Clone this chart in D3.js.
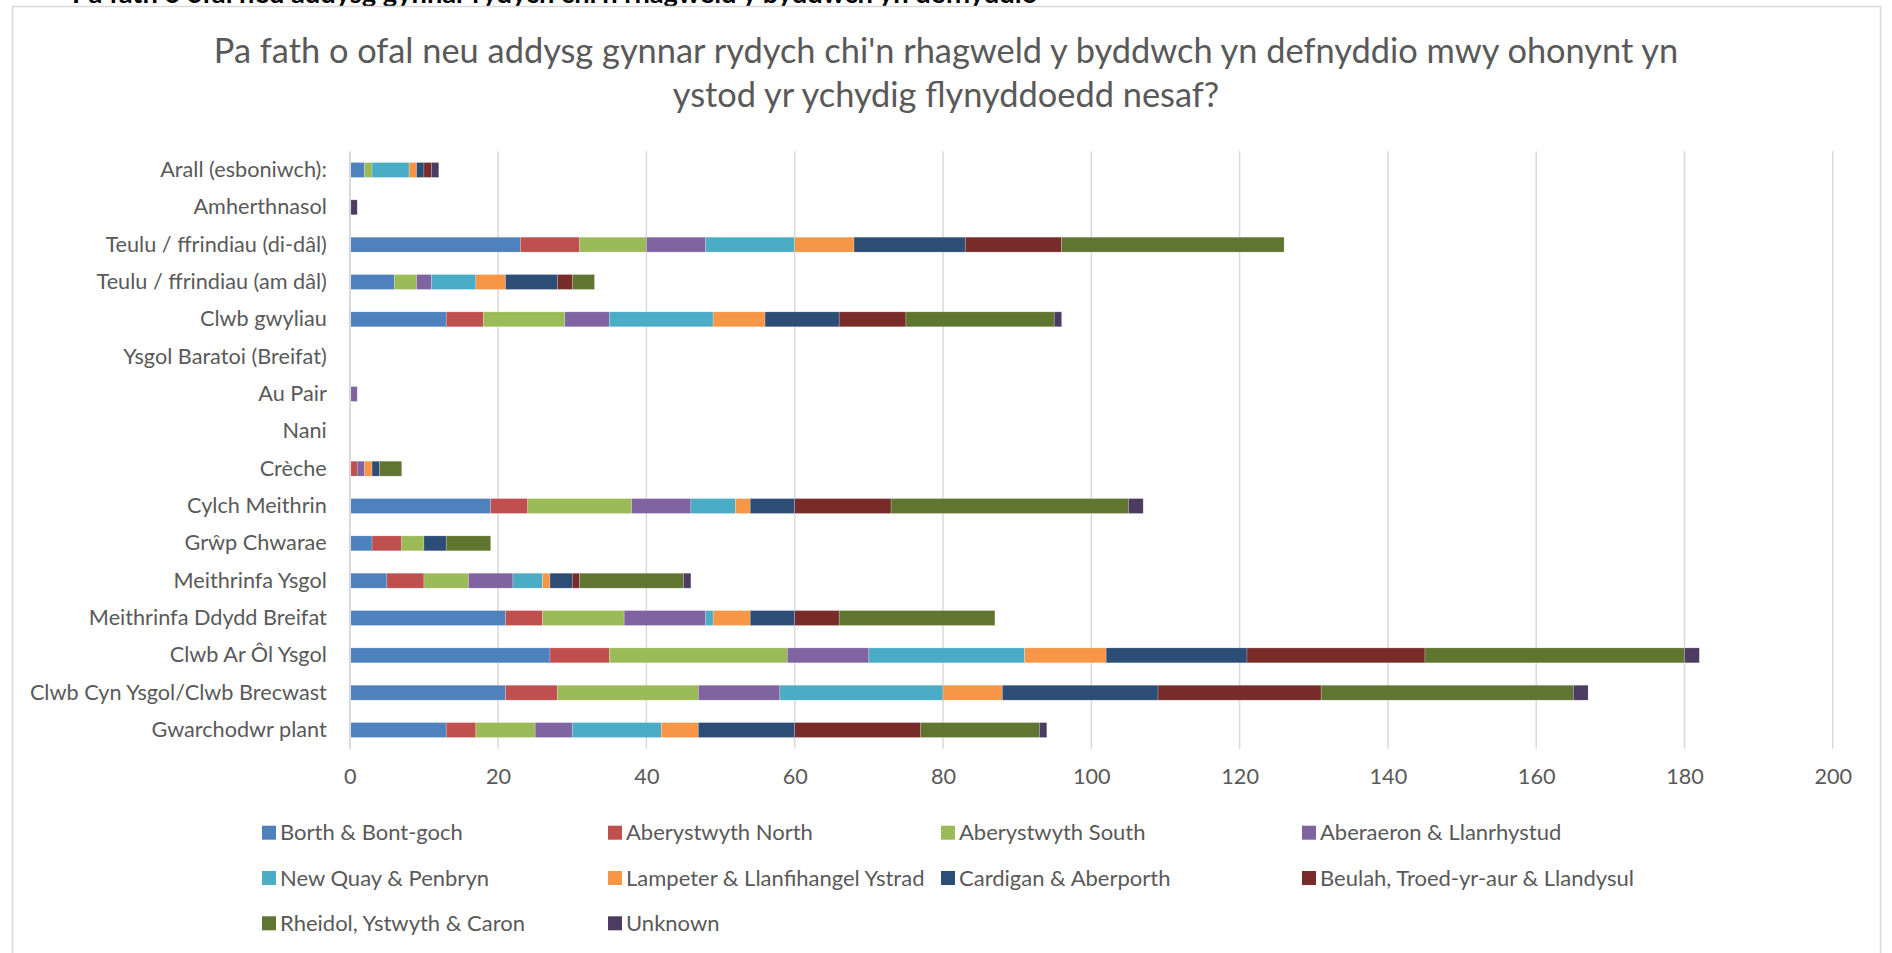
<!DOCTYPE html>
<html>
<head>
<meta charset="utf-8">
<script src="https://cdn.jsdelivr.net/npm/d3@7"></script>
<style>
  html, body { margin: 0; padding: 0; background: #fff; }
  svg { display: block; }
</style>
</head>
<body>
<svg id="chart" width="1892" height="953"></svg>
<script>
// ---------- DATA ----------
const categories = [
  "Arall (esboniwch):",
  "Amherthnasol",
  "Teulu / ffrindiau (di-dâl)",
  "Teulu / ffrindiau (am dâl)",
  "Clwb gwyliau",
  "Ysgol Baratoi (Breifat)",
  "Au Pair",
  "Nani",
  "Crèche",
  "Cylch Meithrin",
  "Grŵp Chwarae",
  "Meithrinfa Ysgol",
  "Meithrinfa Ddydd Breifat",
  "Clwb Ar Ôl Ysgol",
  "Clwb Cyn Ysgol/Clwb Brecwast",
  "Gwarchodwr plant"
];

const seriesNames = [
  "Borth & Bont-goch",
  "Aberystwyth North",
  "Aberystwyth South",
  "Aberaeron & Llanrhystud",
  "New Quay & Penbryn",
  "Lampeter & Llanfihangel Ystrad",
  "Cardigan & Aberporth",
  "Beulah, Troed-yr-aur & Llandysul",
  "Rheidol, Ystwyth & Caron",
  "Unknown"
];

const seriesColors = ["#4F81BD","#C0504D","#9BBB59","#8064A2","#4BACC6","#F79646","#2C4D75","#772C2A","#5F7530","#4D3B62"];

// values per series, in category order above
const borth     = [2,0,23,6,13,0,0,0,0,19,3,5,21,27,21,13];
const abNorth   = [0,0,8,0,5,0,0,0,1,5,4,5,5,8,7,4];
const abSouth   = [1,0,9,3,11,0,0,0,0,14,3,6,11,24,19,8];
const aberaeron = [0,0,8,2,6,0,1,0,1,8,0,6,11,11,11,5];
const newQuay   = [5,0,12,6,14,0,0,0,0,6,0,4,1,21,22,12];
const lampeter  = [1,0,8,4,7,0,0,0,1,2,0,1,5,11,8,5];
const cardigan  = [1,0,15,7,10,0,0,0,1,6,3,3,6,19,21,13];
const beulah    = [1,0,13,2,9,0,0,0,0,13,0,1,6,24,22,17];
const rheidol   = [0,0,30,3,20,0,0,0,3,32,6,14,21,35,34,16];
const unknown   = [1,1,0,0,1,0,0,0,0,2,0,1,0,2,2,1];

const xTicks = [0,20,40,60,80,100,120,140,160,180,200];

const titleLines = [
  "Pa fath o ofal neu addysg gynnar rydych chi'n rhagweld y byddwch yn defnyddio mwy ohonynt yn",
  "ystod yr ychydig flynyddoedd nesaf?"
];
const headerText = "Pa fath o ofal neu addysg gynnar rydych chi'n rhagweld y byddwch yn defnyddio";

// ---------- BUILD ----------
const seriesValues = [borth, abNorth, abSouth, aberaeron, newQuay, lampeter, cardigan, beulah, rheidol, unknown];
const table = categories.map((c, i) => {
  const row = { category: c };
  seriesNames.forEach((s, k) => row[s] = seriesValues[k][i]);
  return row;
});
const stacked = d3.stack().keys(seriesNames)(table);

const svg = d3.select("#chart");
const FONT = "Lato, 'Open Sans', sans-serif";
const TXT = "#595959";

function fitSize(text, weight, target, base) {
  const t = svg.append("text").attr("font-family", FONT).attr("font-weight", weight)
    .attr("font-size", base).text(text);
  const w = t.node().getComputedTextLength();
  t.remove();
  return base * target / w;
}

const labelSize  = fitSize("Clwb Cyn Ysgol/Clwb Brecwast", 400, 297, 24);
const legendSize = fitSize("Borth & Bont-goch", 400, 183, 24);
const titleSize  = fitSize(titleLines[0], 400, 1465, 36);
const headSize   = fitSize(headerText, 700, 966, 22);

// header (partly above the top edge of the picture, as in the source)
svg.append("text")
  .attr("x", 72).attr("y", 3)
  .attr("font-family", FONT).attr("font-weight", 700)
  .attr("font-size", headSize).attr("fill", "#000")
  .text(headerText);

// chart frame
svg.append("rect")
  .attr("x", 12.5).attr("y", 6.5).attr("width", 1868).attr("height", 960)
  .attr("fill", "#fff").attr("stroke", "#d9d9d9").attr("stroke-width", 1.5);

// title
svg.append("g").selectAll("text").data(titleLines).join("text")
  .attr("x", 946).attr("y", (d, i) => 63 + i * 44)
  .attr("text-anchor", "middle")
  .attr("font-family", FONT).attr("font-size", titleSize).attr("fill", TXT)
  .text(d => d);

// scales
const x = d3.scaleLinear().domain([0, 200]).range([349.8, 1832.8]);
const y = d3.scaleBand().domain(categories).range([151.3, 748.7])
  .paddingInner(0.6).paddingOuter(0.3);

// grid lines
svg.append("g").selectAll("line").data(xTicks).join("line")
  .attr("x1", d => x(d)).attr("x2", d => x(d))
  .attr("y1", y.range()[0]).attr("y2", y.range()[1])
  .attr("stroke", "#d9d9d9").attr("stroke-width", 1.5);

// bars
svg.append("g").selectAll("g").data(stacked).join("g")
  .attr("fill", (d, i) => seriesColors[i])
  .selectAll("rect").data(d => d.filter(p => p[1] - p[0] > 0)).join("rect")
  .attr("x", d => x(d[0]))
  .attr("width", d => x(d[1]) - x(d[0]))
  .attr("y", d => y(d.data.category))
  .attr("height", y.bandwidth())
  .attr("stroke", "#ffffff").attr("stroke-opacity", 0.35).attr("stroke-width", 0.6);

// y axis
const yAxis = svg.append("g")
  .attr("transform", `translate(${x(0)},0)`)
  .call(d3.axisLeft(y).tickSize(0).tickPadding(23));
yAxis.select(".domain").attr("stroke", "#d9d9d9").attr("stroke-width", 1.5);
yAxis.selectAll("text").attr("font-family", FONT).attr("font-size", labelSize).attr("fill", TXT);

// x axis labels
const xAxis = svg.append("g")
  .attr("transform", `translate(0,${y.range()[1]})`)
  .call(d3.axisBottom(x).tickValues(xTicks).tickSize(0).tickPadding(20));
xAxis.select(".domain").remove();
xAxis.selectAll("text").attr("font-family", FONT).attr("font-size", labelSize).attr("fill", TXT);

// legend
const legendCols = [262, 608, 941, 1302];
const legend = svg.append("g");
const items = legend.selectAll("g").data(seriesNames).join("g")
  .attr("transform", (d, i) => `translate(${legendCols[i % 4]},${832.7 + Math.floor(i / 4) * 45.3})`);
items.append("rect")
  .attr("x", 0).attr("y", -7).attr("width", 14).attr("height", 14)
  .attr("fill", (d, i) => seriesColors[i]);
items.append("text")
  .attr("x", 18).attr("y", 0).attr("dy", "0.35em")
  .attr("font-family", FONT).attr("font-size", legendSize).attr("fill", TXT)
  .text(d => d);
</script>
</body>
</html>
